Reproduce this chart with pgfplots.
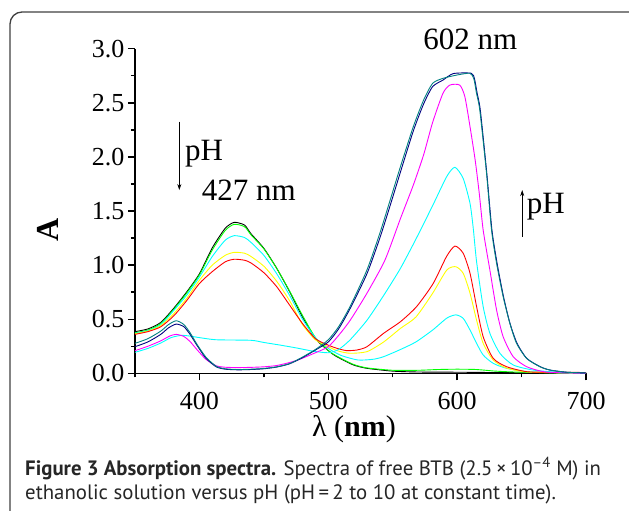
\documentclass[border=0pt]{standalone}
\usepackage{fontspec}
\setmainfont{Liberation Serif}
\newfontfamily\capfont{PT Sans}
\usepackage{pgfplots}
\pgfplotsset{compat=1.18}
\usetikzlibrary{arrows.meta}
\definecolor{navyc}{RGB}{0,0,128}
\definecolor{tealc}{RGB}{0,128,128}
\definecolor{cyanc}{RGB}{0,255,255}
\definecolor{magentac}{RGB}{255,0,255}
\definecolor{yellowc}{RGB}{255,255,0}
\definecolor{greenc}{RGB}{0,255,0}
\definecolor{redc}{RGB}{255,0,0}
\definecolor{framec}{RGB}{64,64,64}
\definecolor{capc}{RGB}{38,38,38}
\begin{document}
\begin{tikzpicture}
\path[use as bounding box] (0,0) rectangle (629pt,-511pt);
\draw[framec, line width=1.3pt, rounded corners=12pt] (10pt,-530pt) -- (10pt,-12pt) -- (660pt,-12pt);
\begin{axis}[
  at={(135pt,-373.3pt)}, anchor=south west,
  scale only axis, width=451pt, height=324.6pt,
  xmin=350, xmax=700, ymin=0, ymax=3,
  enlargelimits=false, clip=false,
  axis x line=bottom, axis y line=left,
  axis line style={-, line width=1.5pt},
  tick align=outside,
  major tick length=7pt, minor tick length=4pt,
  every tick/.style={black, line width=1.4pt},
  xtick={300,400,500,600,700}, minor x tick num=1,
  ytick={0,0.5,1,1.5,2,2.5,3}, minor y tick num=1,
  /pgf/number format/assume math mode=true,
  yticklabel={\pgfmathprintnumber[fixed,fixed zerofill,precision=1]{\tick}},
  xticklabel style={/pgf/number format/1000 sep={}, yshift=-8pt},
  ticklabel style={font=\fontsize{26}{26}\selectfont},
  xlabel={λ (\textbf{nm})},
  xlabel style={font=\fontsize{30}{30}\selectfont, inner sep=0pt, at={(axis description cs:0.4856,-0.172)}, anchor=center},
  ylabel={\textbf{A}},
  ylabel style={font=\fontsize{32}{32}\selectfont, at={(axis description cs:-0.194,0.4415)}, anchor=center, rotate=0},
  every axis plot/.append style={line width=0.9pt, mark=none, smooth, tension=0.4},
]
% black (lowest pH)
\addplot[black] coordinates {(350,0.385)(360,0.41)(370,0.47)(380,0.60)(390,0.75)(400,0.92)(410,1.16)(420,1.34)(427,1.395)(435,1.37)(440,1.29)(450,1.155)(460,0.97)(470,0.754)(480,0.52)(490,0.32)(500,0.21)(505,0.165)(512,0.12)(520,0.075)(530,0.046)(550,0.02)(570,0.012)(600,0.01)(650,0.005)(700,0.0)};
% green
\addplot[greenc] coordinates {(350,0.375)(360,0.40)(370,0.46)(380,0.59)(390,0.74)(400,0.91)(410,1.14)(420,1.32)(427,1.377)(435,1.355)(440,1.28)(450,1.15)(460,0.97)(470,0.76)(480,0.535)(490,0.33)(500,0.21)(505,0.17)(512,0.125)(520,0.08)(530,0.05)(550,0.028)(570,0.028)(585,0.035)(600,0.038)(615,0.035)(630,0.02)(650,0.01)(700,0.0)};
% cyan 1
\addplot[cyanc] coordinates {(350,0.37)(360,0.395)(370,0.45)(380,0.58)(390,0.72)(400,0.89)(410,1.08)(420,1.23)(427,1.272)(435,1.255)(440,1.21)(450,1.09)(460,0.92)(470,0.72)(480,0.50)(490,0.33)(500,0.23)(510,0.165)(523,0.123)(535,0.13)(543,0.154)(556,0.22)(568,0.29)(581,0.40)(592,0.51)(599,0.54)(604.7,0.508)(610,0.40)(615.1,0.277)(620.2,0.169)(628,0.092)(638.4,0.046)(655,0.015)(680,0.004)(700,0.0)};
% yellow
\addplot[yellowc] coordinates {(350,0.365)(360,0.39)(370,0.44)(380,0.55)(390,0.69)(400,0.86)(410,1.00)(420,1.09)(427,1.118)(435,1.11)(440,1.08)(450,0.99)(460,0.85)(470,0.67)(480,0.45)(490,0.31)(500,0.245)(508,0.205)(517,0.185)(530,0.20)(543,0.29)(556,0.415)(568,0.52)(581,0.74)(592,0.955)(599,0.985)(604.7,0.924)(610,0.74)(615.1,0.49)(620.2,0.277)(628,0.123)(638,0.05)(655,0.012)(700,0.0)};
% red
\addplot[redc] coordinates {(350,0.36)(360,0.385)(370,0.43)(380,0.53)(390,0.67)(400,0.83)(410,0.94)(420,1.03)(427,1.054)(435,1.045)(440,1.02)(450,0.93)(460,0.80)(470,0.63)(480,0.46)(490,0.32)(500,0.26)(507,0.23)(514,0.21)(522,0.215)(530,0.246)(543,0.37)(556,0.477)(568.5,0.616)(581.4,0.83)(591.8,1.08)(598.3,1.176)(604.7,1.109)(610,0.924)(615.1,0.616)(620.2,0.338)(628,0.138)(638.4,0.061)(653.9,0.015)(670,0.01)(690,0.01)(700,0.005)};
% cyan 2
\addplot[cyanc] coordinates {(350,0.194)(360,0.23)(370,0.28)(378,0.33)(386,0.351)(392,0.345)(400,0.33)(413,0.31)(440,0.305)(450,0.285)(463,0.26)(475,0.235)(488,0.205)(500,0.19)(508,0.22)(517,0.31)(530,0.49)(543,0.72)(556,0.97)(568,1.24)(581,1.55)(592,1.82)(598.3,1.904)(604.7,1.80)(610,1.57)(612.5,1.34)(615.1,1.03)(620.2,0.616)(625.4,0.37)(633.2,0.185)(643.5,0.077)(659,0.03)(680,0.008)(700,0.0)};
% magenta
\addplot[magentac] coordinates {(350,0.209)(360,0.25)(370,0.30)(377,0.345)(382,0.36)(388,0.34)(393,0.29)(398,0.22)(405,0.13)(413,0.07)(420,0.056)(430,0.053)(440,0.055)(450,0.06)(460,0.072)(470,0.10)(478,0.13)(490,0.19)(500,0.246)(508,0.35)(517,0.49)(530,0.74)(544,1.047)(556,1.43)(566,1.74)(574,2.02)(581,2.32)(589,2.588)(594.4,2.664)(602,2.664)(606,2.556)(610,2.279)(614,1.97)(617.2,1.66)(620.2,1.324)(625.4,0.955)(630.6,0.585)(635.7,0.338)(643.5,0.154)(653.9,0.061)(667,0.015)(680,0.005)(700,0.0)};
% navy
\addplot[navyc] coordinates {(350,0.246)(360,0.29)(370,0.36)(376,0.42)(382,0.455)(388,0.43)(393,0.355)(398,0.26)(405,0.14)(413,0.06)(420,0.038)(430,0.032)(440,0.035)(450,0.042)(460,0.058)(470,0.088)(480,0.145)(490,0.215)(500,0.29)(508,0.41)(517,0.60)(530,0.92)(540,1.25)(548,1.55)(556,1.86)(566,2.24)(574,2.49)(581,2.65)(589,2.71)(597,2.77)(611,2.773)(613.5,2.72)(615.5,2.59)(618,2.43)(623,1.85)(627,1.324)(631,1.017)(636,0.708)(641,0.462)(646.5,0.277)(654,0.138)(664.5,0.061)(672,0.03)(685,0.01)(700,0.003)};
% teal (highest pH)
\addplot[tealc] coordinates {(350,0.277)(360,0.32)(370,0.39)(376,0.45)(382,0.486)(388,0.45)(393,0.37)(398,0.27)(405,0.15)(413,0.065)(420,0.042)(430,0.035)(440,0.038)(450,0.045)(460,0.06)(470,0.09)(480,0.15)(490,0.22)(500,0.31)(508,0.43)(517,0.62)(530,0.955)(540,1.294)(548,1.60)(556,1.91)(566,2.28)(574,2.526)(581,2.68)(589,2.726)(600,2.757)(610,2.773)(613,2.72)(615,2.59)(617.6,2.43)(622.8,1.85)(626.7,1.324)(630.6,1.017)(635.7,0.708)(640.9,0.462)(646.1,0.277)(653.9,0.138)(664.2,0.061)(672,0.03)(685,0.01)(700,0.003)};
% annotations
\node[anchor=base west, inner sep=0, font=\fontsize{31}{31}\selectfont] at (axis cs:573.7,2.994) {602 nm};
\node[anchor=base west, inner sep=0, font=\fontsize{31}{31}\selectfont] at (axis cs:401.7,1.60) {427 nm};
\node[anchor=base west, inner sep=0, font=\fontsize{31}{31}\selectfont] at (axis cs:388.8,1.971) {pH};
\node[anchor=base west, inner sep=0, font=\fontsize{31}{31}\selectfont] at (axis cs:653.9,1.479) {pH};
\draw[-{Stealth[length=6pt,width=4pt]}, line width=0.8pt] (axis cs:384.4,2.325) -- (axis cs:384.4,1.694);
\draw[-{Stealth[length=6pt,width=4pt]}, line width=0.8pt] (axis cs:650.5,1.262) -- (axis cs:650.5,1.694);
\end{axis}
\node[anchor=base west, inner sep=0, text=capc, font=\capfont\fontsize{20.8}{23}\selectfont] at (25pt,-475pt) {\textbf{Figure 3 Absorption spectra.} Spectra of free BTB (2.5\,×\,10\textsuperscript{–4} M) in};
\node[anchor=base west, inner sep=0, text=capc, font=\capfont\fontsize{20.8}{23}\selectfont] at (25pt,-499pt) {ethanolic solution versus pH (pH\,=\,2 to 10 at constant time).};
\end{tikzpicture}
\end{document}
